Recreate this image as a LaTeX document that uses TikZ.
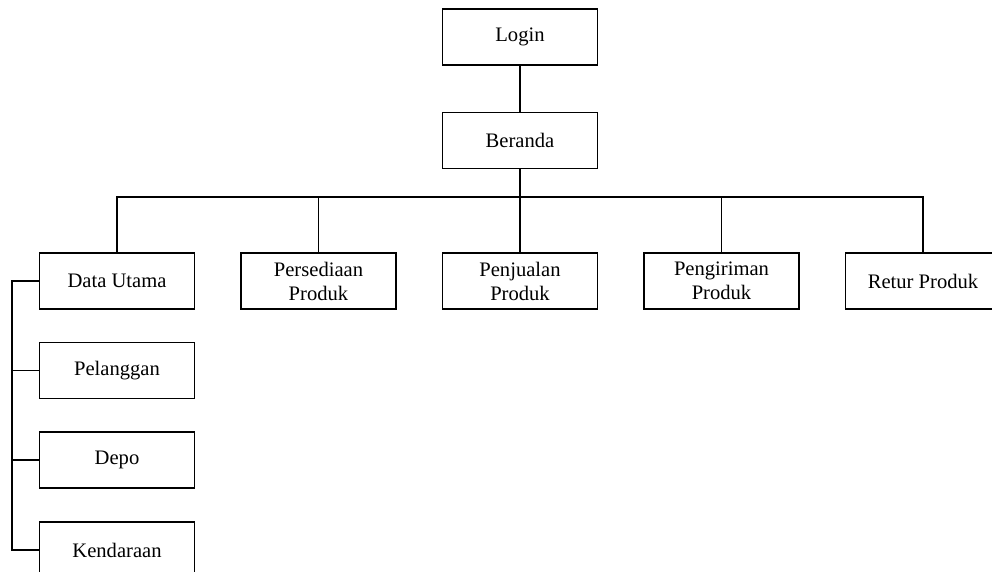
\documentclass[tikz,border=0pt]{standalone}
\usepackage{fontspec}
\setmainfont{Liberation Serif}
\usepackage{tikz}
\usetikzlibrary{positioning}

\begin{document}
\begin{tikzpicture}[x=1pt, y=-1pt, line width=1.2pt,
  menu/.style={draw, line width=1.2pt, minimum width=155pt, minimum height=56pt,
    inner sep=0pt, align=center, font=\fontsize{20.6}{24}\selectfont}]
\clip (0,0) rectangle (992,571);
% top
\node[menu] (login) at (520,37) {Login};
\node[menu] (beranda) at (520,140.5) {Beranda};
% main menu row
\node[menu] (data) at (117,281) {Data Utama};
\node[menu] (persediaan) at (318.5,281) {Persediaan\\Produk};
\node[menu] (penjualan) at (520,281) {Penjualan\\Produk};
\node[menu] (pengiriman) at (721.5,281) {Pengiriman\\Produk};
\node[menu] (retur) at (923,281) {Retur Produk};
% sub menu of data utama
\node[menu] (pelanggan) at (117,370.5) {Pelanggan};
\node[menu] (depo) at (117,460) {Depo};
\node[menu] (kendaraan) at (117,550) {Kendaraan};
\coordinate (bus) at (520,197);
\coordinate (rail) at (12,0);
% connectors
\draw (login) -- (beranda);
\draw (beranda) -- (bus);
\draw (data.north) -- (data.north |- bus) -| (retur.north);
\foreach \n in {persediaan, penjualan, pengiriman}
  \draw (\n.north) -- (\n.north |- bus);
\draw (data.west) -- (data.west -| rail) |- (kendaraan.west);
\foreach \n in {pelanggan, depo}
  \draw (\n.west) -- (\n.west -| rail);
\end{tikzpicture}
\end{document}
